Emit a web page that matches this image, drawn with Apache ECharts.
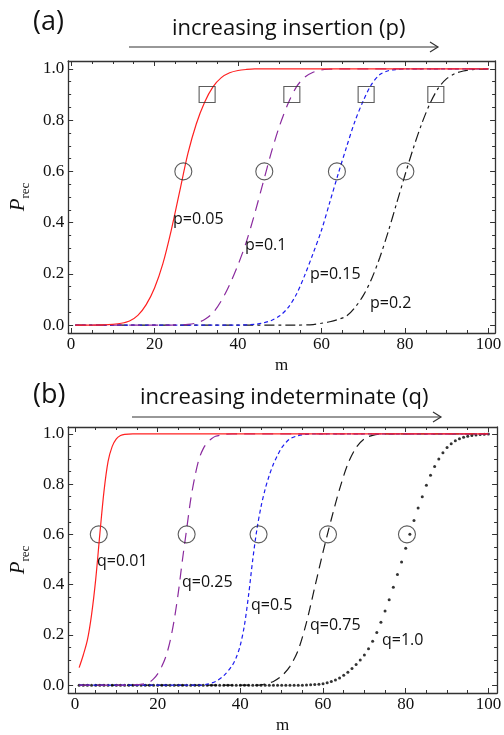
<!DOCTYPE html>
<html><head><meta charset="utf-8">
<script src="https://cdn.jsdelivr.net/npm/echarts@6/dist/echarts.min.js"></script>
<style>html,body{margin:0;padding:0;background:#fff}#c{width:504px;height:735px}</style>
</head><body><div id="c"></div>
<script>
// ---------- data ----------
const xMajor = [0, 20, 40, 60, 80, 100];
const xMinor = [5, 10, 15, 25, 30, 35, 45, 50, 55, 65, 70, 75, 85, 90, 95];
const yMajor = [0, 0.2, 0.4, 0.6, 0.8, 1.0];
const yMinor = [0.05, 0.1, 0.15, 0.25, 0.3, 0.35, 0.45, 0.5, 0.55, 0.65, 0.7, 0.75, 0.85, 0.9, 0.95];

// panel (a): [m, Prec]
const aP005 = [[1,0],[8,0.001],[10,0.003],[12,0.007],[14,0.016],[16,0.038],[18,0.08],[20,0.145],[22,0.24],[24,0.37],[26,0.52],[28,0.67],[30,0.785],[32,0.87],[34,0.93],[36,0.966],[38,0.985],[40,0.994],[42,0.998],[44,1],[100,1]];
const aP01 = [[1,0],[24,0],[28,0.003],[30,0.008],[32,0.022],[34,0.048],[36,0.095],[38,0.158],[40,0.235],[42,0.325],[44,0.435],[46,0.555],[48,0.675],[50,0.78],[52,0.865],[54,0.93],[56,0.968],[58,0.987],[60,0.996],[62,0.999],[64,1],[100,1]];
const aP015 = [[1,0],[40,0],[44,0.003],[46,0.008],[48,0.018],[50,0.036],[52,0.068],[54,0.12],[56,0.195],[58,0.28],[60,0.37],[62,0.48],[64,0.59],[66,0.695],[68,0.795],[70,0.875],[72,0.94],[74,0.978],[76,0.993],[78,0.998],[80,1],[100,1]];
const aP02 = [[1,0],[54,0],[58,0.002],[60,0.007],[62,0.013],[64,0.022],[66,0.035],[68,0.068],[70,0.115],[72,0.18],[74,0.265],[76,0.365],[78,0.475],[80,0.585],[82,0.69],[84,0.785],[86,0.865],[88,0.925],[90,0.962],[92,0.982],[94,0.992],[96,0.997],[98,0.999],[100,1]];
const aCircleM = [26.9, 46.3, 63.7, 80.1];
const aCircleY = [0.6, 0.6, 0.6, 0.6];
const aSquareM = [32.6, 52.9, 70.7, 87.4];
const aSquareY = [0.9, 0.9, 0.9, 0.9];

// panel (b)
const bQ001 = [[1,0.07],[2,0.12],[3,0.18],[4,0.28],[5,0.42],[6,0.6],[7,0.77],[8,0.89],[9,0.95],[10,0.98],[11,0.993],[12,0.998],[14,1],[100,1]];
const bQ025 = [[1,0],[12,0],[14,0.001],[16,0.003],[18,0.012],[19,0.025],[20,0.045],[21,0.075],[22,0.115],[23,0.175],[24,0.26],[25,0.37],[26,0.5],[27,0.62],[28,0.74],[29,0.83],[30,0.9],[31,0.94],[32,0.965],[33,0.98],[34,0.99],[36,0.997],[38,1],[100,1]];
const bQ05 = [[1,0],[30,0],[32,0.004],[34,0.015],[36,0.038],[38,0.078],[39,0.11],[40,0.16],[41,0.24],[42,0.36],[43,0.5],[44,0.62],[45,0.71],[46,0.78],[47,0.835],[48,0.88],[49,0.915],[50,0.945],[51,0.965],[52,0.98],[54,0.993],[56,0.998],[58,1],[100,1]];
const bQ075 = [[1,0],[44,0],[46,0.005],[48,0.015],[50,0.037],[52,0.075],[54,0.14],[56,0.25],[58,0.39],[60,0.53],[62,0.66],[64,0.78],[66,0.88],[68,0.945],[70,0.98],[72,0.994],[75,1],[100,1]];
// q = 1.0, one value per integer m = 1..100
const bQ10 = [0,0,0,0,0,0,0,0,0,0, 0,0,0,0,0,0,0,0,0,0, 0,0,0,0,0,0,0,0,0,0, 0,0,0,0,0,0,0,0,0,0, 0,0,0,0,0,0,0,0,0,0,
  0,0,0,0,0,0.001,0.002,0.003,0.004,0.006, 0.01,0.015,0.021,0.029,0.04,0.052,0.066,0.082,0.1,0.12,
  0.145,0.175,0.21,0.25,0.295,0.34,0.39,0.44,0.49,0.545, 0.6,0.655,0.705,0.75,0.795,0.835,0.87,0.9,0.925,0.945,
  0.96,0.972,0.98,0.986,0.99,0.993,0.995,0.997,0.998,0.999];
const bCircleM = [5.75, 27, 44.4, 61.2, 80.3];
const bCircleY = [0.6, 0.6, 0.6, 0.6, 0.6];

// ---------- build ----------
const FRAME = '#333';
const SERIF = '"Liberation Serif", "Times New Roman", serif';
const SANS = '"Open Sans", "Noto Sans", sans-serif';

const panels = [
  {grid: {left: 58, top: 61, width: 440, height: 272}, xr: [-0.7, 101.6], yr: [-0.031, 1.031]},
  {grid: {left: 61, top: 427, width: 437, height: 270}, xr: [-1.66, 102.1], yr: [-0.031, 1.027]}
];

const grids = [], xAxes = [], yAxes = [];
panels.forEach((p, g) => {
  grids.push(p.grid);
  const baseX = {type: 'value', gridIndex: g, min: p.xr[0], max: p.xr[1], splitLine: {show: false}};
  const baseY = {type: 'value', gridIndex: g, min: p.yr[0], max: p.yr[1], splitLine: {show: false}};
  xAxes.push(Object.assign({}, baseX, {
    position: 'bottom',
    axisLine: {show: true, onZero: false, lineStyle: {color: FRAME, width: 1.3}},
    axisTick: {show: true, inside: true, length: 5, customValues: xMajor, lineStyle: {color: FRAME}},
    axisLabel: {show: true, customValues: xMajor, margin: 3, fontFamily: SERIF, fontSize: 17, color: '#111'},
    name: 'm', nameLocation: 'middle', nameGap: 24,
    nameTextStyle: {fontFamily: SERIF, fontSize: 17, color: '#111'}
  }));
  xAxes.push(Object.assign({}, baseX, {
    position: 'bottom', axisLine: {show: false, onZero: false},
    axisTick: {show: true, inside: true, length: 3, customValues: xMinor, lineStyle: {color: FRAME}},
    axisLabel: {show: false}
  }));
  xAxes.push(Object.assign({}, baseX, {
    position: 'top',
    axisLine: {show: true, onZero: false, lineStyle: {color: FRAME, width: 1.3}},
    axisTick: {show: true, inside: true, length: 5, customValues: xMajor, lineStyle: {color: FRAME}},
    axisLabel: {show: false}
  }));
  xAxes.push(Object.assign({}, baseX, {
    position: 'top', axisLine: {show: false, onZero: false},
    axisTick: {show: true, inside: true, length: 3, customValues: xMinor, lineStyle: {color: FRAME}},
    axisLabel: {show: false}
  }));
  yAxes.push(Object.assign({}, baseY, {
    position: 'left',
    axisLine: {show: true, onZero: false, lineStyle: {color: FRAME, width: 1.3}},
    axisTick: {show: true, inside: true, length: 5, customValues: yMajor, lineStyle: {color: FRAME}},
    axisLabel: {show: true, customValues: yMajor, margin: 4, fontFamily: SERIF, fontSize: 17, color: '#111',
      formatter: v => v.toFixed(1)},
    name: '{p|P}{s|rec}', nameLocation: 'middle', nameGap: 30,
    nameTextStyle: {rich: {
      p: {fontFamily: SERIF, fontStyle: 'italic', fontSize: 21, color: '#111', verticalAlign: 'bottom'},
      s: {fontFamily: SERIF, fontSize: 13, color: '#111', verticalAlign: 'bottom', padding: [0, 0, -3, 0]}
    }}
  }));
  yAxes.push(Object.assign({}, baseY, {
    position: 'left', axisLine: {show: false, onZero: false},
    axisTick: {show: true, inside: true, length: 3, customValues: yMinor, lineStyle: {color: FRAME}},
    axisLabel: {show: false}
  }));
  yAxes.push(Object.assign({}, baseY, {
    position: 'right',
    axisLine: {show: true, onZero: false, lineStyle: {color: FRAME, width: 1.3}},
    axisTick: {show: true, inside: true, length: 5, customValues: yMajor, lineStyle: {color: FRAME}},
    axisLabel: {show: false}
  }));
  yAxes.push(Object.assign({}, baseY, {
    position: 'right', axisLine: {show: false, onZero: false},
    axisTick: {show: true, inside: true, length: 3, customValues: yMinor, lineStyle: {color: FRAME}},
    axisLabel: {show: false}
  }));
});

function lineS(g, data, color, type, z) {
  return {type: 'line', xAxisIndex: g * 4, yAxisIndex: g * 4, data: data, showSymbol: false,
    smooth: 0.3, z: z || 2,
    lineStyle: {color: color, width: 1.2, type: type}};
}
function markS(g, ms, ys, symbol, size) {
  return {type: 'scatter', xAxisIndex: g * 4, yAxisIndex: g * 4, symbol: symbol, symbolSize: size, z: 5,
    data: ms.map((m, i) => [m, ys[i]]),
    itemStyle: {color: 'rgba(0,0,0,0)', borderColor: '#333', borderWidth: 1.1}};
}

const RED = '#ff2020', PURPLE = '#8a2a9e', BLUE = '#1c1cf0', BLACK = '#1a1a1a';

const series = [
  lineS(0, aP02, BLACK, [10, 4, 3, 4], 2),
  lineS(0, aP015, BLUE, [4, 3], 3),
  lineS(0, aP01, PURPLE, [11, 7], 4),
  lineS(0, aP005, RED, 'solid', 5),
  markS(0, aCircleM, aCircleY, 'circle', 17),
  markS(0, aSquareM, aSquareY, 'rect', 16),
  lineS(1, bQ075, BLACK, [10, 6], 2),
  {type: 'scatter', xAxisIndex: 4, yAxisIndex: 4, symbol: 'circle', symbolSize: 3, z: 3,
    data: bQ10.map((v, i) => [i + 1, v]), itemStyle: {color: '#000'}},
  lineS(1, bQ05, BLUE, [4, 3], 4),
  lineS(1, bQ025, PURPLE, [11, 7], 5),
  lineS(1, bQ001, RED, 'solid', 6),
  markS(1, bCircleM, bCircleY, 'circle', 17)
];

function txt(x, y, s, size, font, align) {
  return {type: 'text', x: x, y: y, style: {text: s, fontSize: size, fontFamily: font || SANS, fill: '#111',
    align: align || 'left', verticalAlign: 'middle'}, z: 10};
}
function arrow(x1, x2, y) {
  return [
    {type: 'line', shape: {x1: x1, y1: y, x2: x2, y2: y}, style: {stroke: '#333', lineWidth: 1.2}, z: 10},
    {type: 'polyline', shape: {points: [[x2 - 8, y - 5], [x2, y], [x2 - 8, y + 5]]}, style: {stroke: '#333', lineWidth: 1.2, fill: null}, z: 10}
  ];
}

const graphic = [
  txt(33, 22, '(a)', 27),
  txt(172, 29, 'increasing insertion (p)', 22),
  ...arrow(129, 438, 47),
  txt(33, 395, '(b)', 27),
  txt(140, 398, 'increasing indeterminate (q)', 22),
  ...arrow(132, 441, 417),
  txt(173, 219, 'p=0.05', 16),
  txt(245, 245, 'p=0.1', 16),
  txt(310, 274, 'p=0.15', 16),
  txt(370, 303, 'p=0.2', 16),
  txt(97, 561, 'q=0.01', 16),
  txt(182, 582, 'q=0.25', 16),
  txt(251, 605, 'q=0.5', 16),
  txt(310, 625, 'q=0.75', 16),
  txt(382, 640, 'q=1.0', 16)
];

const chart = echarts.init(document.getElementById('c'), null, {renderer: 'canvas'});
chart.setOption({
  animation: false,
  backgroundColor: '#fff',
  grid: grids,
  xAxis: xAxes,
  yAxis: yAxes,
  series: series,
  graphic: graphic
});
</script>
</body></html>
